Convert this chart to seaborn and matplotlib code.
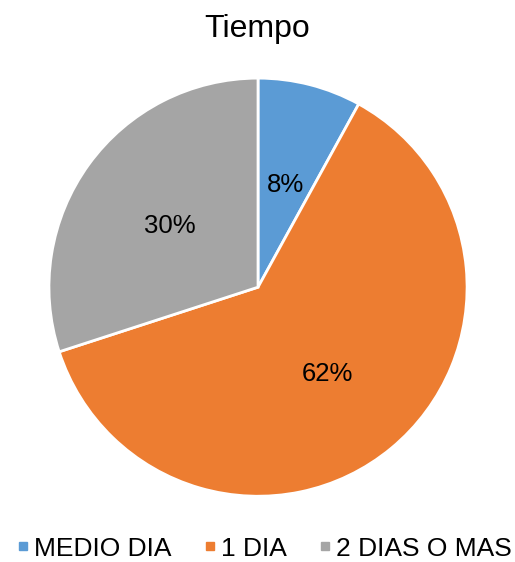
import matplotlib
matplotlib.use("Agg")
import matplotlib.pyplot as plt
import seaborn as sns
from matplotlib.lines import Line2D

sns.set_style("white")
plt.rcParams['font.family'] = ['Liberation Sans', 'DejaVu Sans']

categories = ["MEDIO DIA", "1 DIA", "2 DIAS O MAS"]
values = [8, 62, 30]
colors = ["#5B9BD5", "#ED7D31", "#A5A5A5"]
title = "Tiempo"

fig = plt.figure(figsize=(5.15, 5.62), dpi=100)
ax = fig.add_axes([0.095, 0.117, 0.812, 0.744])
wedges, texts, autotexts = ax.pie(
    values, colors=colors, startangle=90, counterclock=False,
    autopct=lambda p: f"{p:.0f}%", pctdistance=0.52,
    wedgeprops=dict(edgecolor="white", linewidth=2),
    textprops=dict(fontsize=18.5, color="black"))
for t in autotexts:
    x, y = t.get_position()
    t.set_position((x, y - 0.015))
ax.set_aspect("equal")
ax.set_xlim(-1, 1)
ax.set_ylim(-1, 1)
fig.text(0.5, 0.948, title, ha="center", va="center", fontsize=23, color="black")

handles = [Line2D([0], [0], marker="s", linestyle="", markersize=6,
                  markerfacecolor=c, markeredgecolor=c) for c in colors]
fig.legend(handles, categories, loc="center", bbox_to_anchor=(0.506, 0.024),
           ncol=3, frameon=False, fontsize=19, handletextpad=-0.08,
           columnspacing=0.95, handlelength=1.0, labelcolor="black",
           borderpad=0, borderaxespad=0)
fig.savefig("out.png", dpi=100)
